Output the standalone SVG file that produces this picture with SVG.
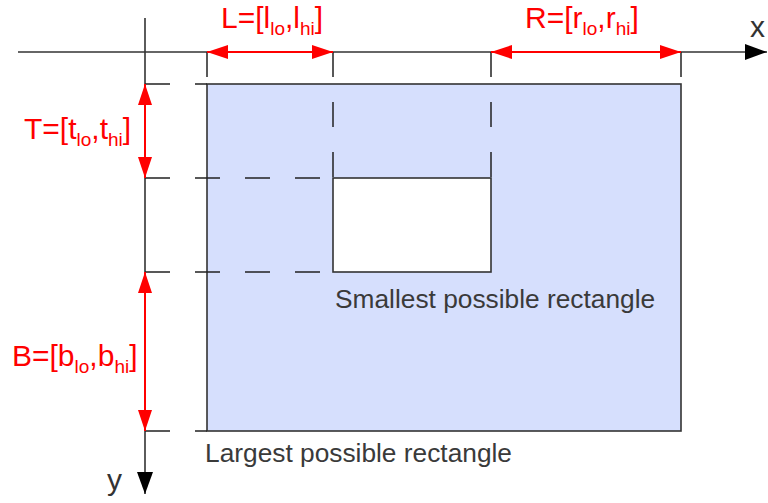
<svg xmlns="http://www.w3.org/2000/svg" width="768" height="503" viewBox="0 0 768 503">
<style>
.lbl{font-family:"Liberation Sans",Arial,sans-serif;font-size:30px;fill:#ff0000}
.sub{font-size:19px}
.cap{font-family:"Liberation Sans",Arial,sans-serif;font-size:26.3px;fill:#3a3a3a}
.axl{font-family:"Liberation Sans",Arial,sans-serif;font-size:30px;fill:#333}
.axis{stroke:#333;stroke-width:1.6;fill:none}
.guide{stroke:#222;stroke-width:1.5;fill:none;stroke-dasharray:25 25}
.dim{stroke:#ff0000;stroke-width:2;fill:none;marker-start:url(#rh);marker-end:url(#rh)}
.box{stroke:#333;stroke-width:1.6}
</style>
<defs>
<marker id="rh" viewBox="0 0 21 14" refX="21" refY="7" markerWidth="21" markerHeight="14" markerUnits="userSpaceOnUse" orient="auto-start-reverse">
<path d="M0,0 L21,7 L0,14 Z" fill="#ff0000"/>
</marker>
<marker id="bh" viewBox="0 0 22 16" refX="22" refY="8" markerWidth="22" markerHeight="16" markerUnits="userSpaceOnUse" orient="auto">
<path d="M0,0 L22,8 L0,16 Z" fill="#000"/>
</marker>
</defs>
<g id="largest">
<rect class="box" x="207" y="84" width="474" height="347" fill="#d6dffd"/>
<text class="cap" x="205" y="462">Largest possible rectangle</text>
</g>
<g id="connectors">
<line class="axis" x1="18" y1="52" x2="767" y2="52" marker-end="url(#bh)"/>
<line class="axis" x1="145" y1="18" x2="145" y2="494" marker-end="url(#bh)"/>
<line class="guide" x1="207" y1="52" x2="207" y2="84"/>
<line class="guide" x1="333" y1="52" x2="333" y2="178"/>
<line class="guide" x1="491" y1="52" x2="491" y2="178"/>
<line class="guide" x1="681" y1="52" x2="681" y2="84"/>
<line class="guide" x1="145" y1="84" x2="207" y2="84"/>
<line class="guide" x1="145" y1="178" x2="333" y2="178"/>
<line class="guide" x1="145" y1="272" x2="333" y2="272"/>
<line class="guide" x1="145" y1="431" x2="207" y2="431"/>
<line class="dim" x1="207" y1="52" x2="333" y2="52"/>
<line class="dim" x1="491" y1="52" x2="681" y2="52"/>
<line class="dim" x1="145" y1="84" x2="145" y2="178"/>
<line class="dim" x1="145" y1="272" x2="145" y2="431"/>
</g>
<g id="smallest">
<rect class="box" x="333" y="178" width="158" height="94" fill="#ffffff"/>
<text class="cap" x="335" y="308">Smallest possible rectangle</text>
</g>
<g id="label-L"><text class="lbl" x="221" y="28">L=[l<tspan class="sub" dy="7">lo</tspan><tspan dy="-7">,l</tspan><tspan class="sub" dy="7">hi</tspan><tspan dy="-7">]</tspan></text></g>
<g id="label-R"><text class="lbl" x="525" y="28">R=[r<tspan class="sub" dy="7">lo</tspan><tspan dy="-7">,r</tspan><tspan class="sub" dy="7">hi</tspan><tspan dy="-7">]</tspan></text></g>
<g id="label-T"><text class="lbl" x="24" y="139">T=[t<tspan class="sub" dy="7">lo</tspan><tspan dy="-7">,t</tspan><tspan class="sub" dy="7">hi</tspan><tspan dy="-7">]</tspan></text></g>
<g id="label-B"><text class="lbl" x="12" y="366">B=[b<tspan class="sub" dy="7">lo</tspan><tspan dy="-7">,b</tspan><tspan class="sub" dy="7">hi</tspan><tspan dy="-7">]</tspan></text></g>
<g id="axis-x"><text class="axl" x="750" y="37">x</text></g>
<g id="axis-y"><text class="axl" x="107" y="490">y</text></g>
</svg>
